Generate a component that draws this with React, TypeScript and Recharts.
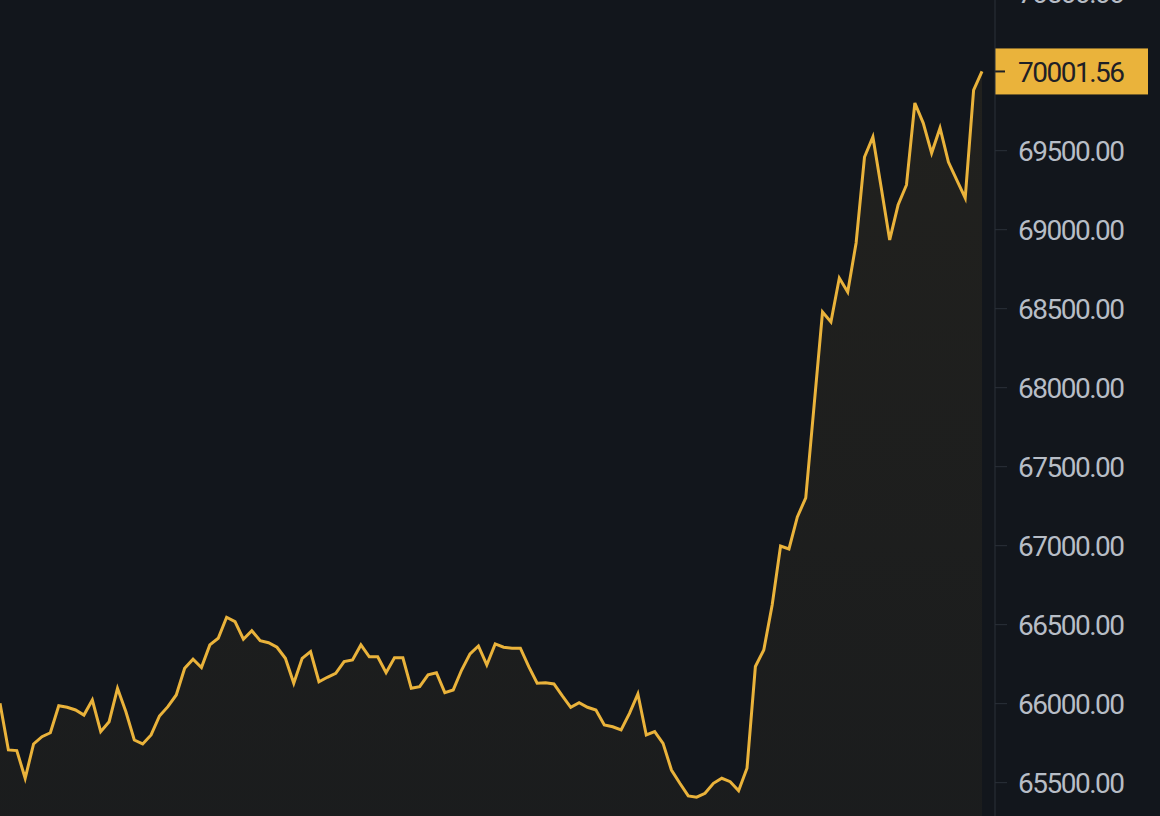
import { AreaChart, Area, XAxis, YAxis, ReferenceLine } from 'recharts'

// price readings, oldest first (one per candle interval)
const prices = [
  66002, 65707, 65703, 65528, 65745, 65791, 65816, 65987, 65977, 65960,
  65928, 66023, 65823, 65886, 66097, 65949, 65770, 65745, 65802, 65922,
  65981, 66055, 66224, 66281, 66229, 66372, 66414, 66547, 66519, 66408,
  66462, 66399, 66386, 66357, 66287, 66129, 66287, 66329, 66139, 66167,
  66192, 66266, 66277, 66372, 66297, 66297, 66196, 66290, 66290, 66097,
  66108, 66182, 66196, 66070, 66087, 66213, 66315, 66365, 66245, 66378,
  66357, 66351, 66351, 66234, 66129, 66133, 66125, 66049, 65977, 66006,
  65977, 65960, 65865, 65854, 65834, 65939, 66062, 65802, 65823, 65749,
  65580, 65496, 65416, 65408, 65433, 65496, 65528, 65506, 65449, 65591,
  66235, 66340, 66625, 66998, 66979, 67182, 67302, 67890, 68479, 68416,
  68694, 68606, 68916, 69460, 69587, 69264, 68935, 69156, 69283, 69802,
  69675, 69485, 69644, 69428, 69314, 69201, 69884, 70001.56,
]

const priceTicks = [65500, 66000, 66500, 67000, 67500, 68000, 68500, 69000, 69500, 70500]
const lastPrice = prices[prices.length - 1]

const data = prices.map((p, i) => ({ t: i, price: p }))

const BG = '#12161c'
const YELLOW = '#eab33b'
const AXIS = '#2b3139'
const TEXT = '#b7bdc6'
const FONT = 'Roboto, sans-serif'

function PriceTag(props: any) {
  const vb = props.viewBox
  const x = vb.x + vb.width
  const y = vb.y
  return (
    <g>
      <rect x={x} y={y - 23} width={153} height={46} fill={YELLOW} />
      <line x1={x} x2={x + 10} y1={y} y2={y} stroke="#1e2026" strokeWidth={2} />
      <text
        x={x + 23}
        y={y}
        dy="0.36em"
        fill="#1e2026"
        fontSize={28}
        fontFamily={FONT}
        style={{ letterSpacing: -1.5 }}
      >
        {lastPrice.toFixed(2)}
      </text>
    </g>
  )
}

export default function App() {
  return (
    <div style={{ position: 'fixed', left: 0, top: 0, width: 1160, height: 816, overflow: 'hidden', background: BG }}>
      <div style={{ position: 'absolute', left: 0, top: -40 }}>
        <AreaChart width={1160} height={856} data={data} margin={{ top: 0, right: 0, bottom: 0, left: 0 }}>
          <defs>
            <linearGradient id="fillPrice" x1="0" y1="0" x2="0" y2="1">
              <stop offset="0%" stopColor={YELLOW} stopOpacity={0.07} />
              <stop offset="100%" stopColor={YELLOW} stopOpacity={0.04} />
            </linearGradient>
          </defs>
          <XAxis dataKey="t" hide padding={{ left: 0, right: 13 }} />
          <YAxis
            orientation="right"
            width={165}
            domain={[65289, 70707]}
            allowDataOverflow
            ticks={priceTicks}
            interval={0}
            tickSize={12}
            tickMargin={11}
            axisLine={{ stroke: AXIS }}
            tickLine={{ stroke: AXIS }}
            tick={{ fill: TEXT, fontSize: 28, fontFamily: FONT, style: { letterSpacing: -1.5 } }}
            tickFormatter={(v: number) => v.toFixed(2)}
          />
          <Area
            type="linear"
            dataKey="price"
            stroke={YELLOW}
            strokeWidth={3}
            fill="url(#fillPrice)"
            fillOpacity={1}
            dot={false}
            activeDot={false}
            isAnimationActive={false}
          />
          <ReferenceLine y={lastPrice} stroke="transparent" label={<PriceTag />} />
        </AreaChart>
      </div>
    </div>
  )
}
